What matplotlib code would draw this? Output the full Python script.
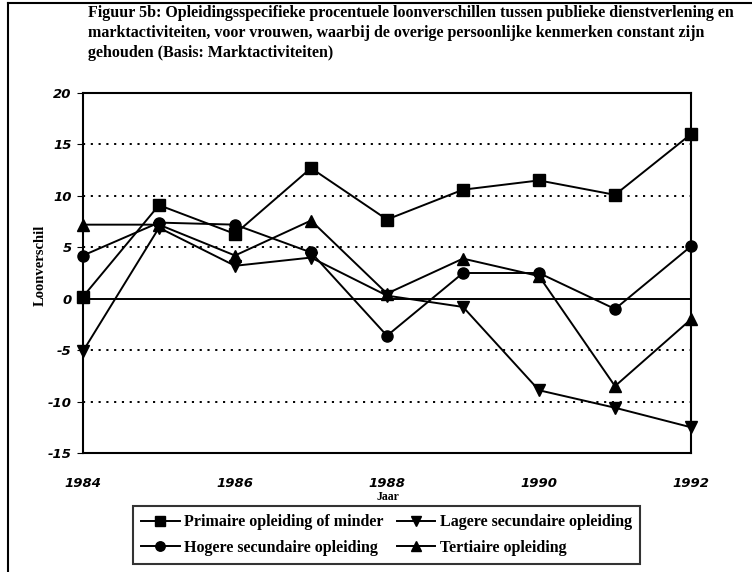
import matplotlib
matplotlib.use("Agg")
import matplotlib.pyplot as plt
from matplotlib.lines import Line2D

years = [1984, 1985, 1986, 1987, 1988, 1989, 1990, 1991, 1992]
primaire = [0.2, 9.1, 6.3, 12.7, 7.7, 10.6, 11.5, 10.1, 16.0]
hogere = [4.2, 7.4, 7.2, 4.5, -3.6, 2.5, 2.5, -1.0, 5.1]
lagere = [-5.1, 6.9, 3.2, 4.0, 0.3, -0.8, -8.9, -10.6, -12.5]
tertiaire = [7.2, 7.2, 4.2, 7.6, 0.5, 3.9, 2.2, -8.5, -2.0]

labels = ["Primaire opleiding of minder", "Hogere secundaire opleiding",
          "Lagere secundaire opleiding", "Tertiaire opleiding"]
xticks = [1984, 1986, 1988, 1990, 1992]
yticks = [-15, -10, -5, 0, 5, 10, 15, 20]

title = ("Figuur 5b: Opleidingsspecifieke procentuele loonverschillen tussen publieke dienstverlening en\n"
         "marktactiviteiten, voor vrouwen, waarbij de overige persoonlijke kenmerken constant zijn\n"
         "gehouden (Basis: Marktactiviteiten)")

W, H = 752, 572
fig = plt.figure(figsize=(W / 100, H / 100), dpi=100)
fig.patch.set_facecolor("white")

ax = fig.add_axes([83 / W, 1 - 453 / H, 608 / W, 360 / H])
ax.set_xlim(1984, 1992)
ax.set_ylim(-15, 20)

for y in [-10, -5, 5, 10, 15]:
    ax.axhline(y, color="black", lw=1.4, linestyle=(0, (1.1, 2.9)), zorder=1)
ax.axhline(0, color="black", lw=1.4, zorder=1)

series = [primaire, hogere, lagere, tertiaire]
markers = ["s", "o", "v", "^"]
handles = []
for vals, m, lab in zip(series, markers, labels):
    h, = ax.plot(years, vals, color="black", lw=1.4, marker=m, markersize=8,
                 markerfacecolor="black", markeredgecolor="black", label=lab,
                 clip_on=False, zorder=3)
    handles.append(h)

for s in ax.spines.values():
    s.set_linewidth(1.5)
    s.set_color("black")

ax.set_xticks(xticks)
ax.set_xticklabels([str(x) for x in xticks])
ax.set_yticks(yticks)
ax.set_yticklabels([str(y) for y in yticks])
ax.tick_params(axis="x", length=0, pad=17)
ax.tick_params(axis="y", length=4, width=0.8, direction="out", pad=4)
for lbl in ax.get_xticklabels() + ax.get_yticklabels():
    lbl.set_fontfamily("DejaVu Sans")
    lbl.set_fontweight("heavy")
    lbl.set_fontstyle("italic")
    lbl.set_fontsize(9.5)

fig.text(40 / W, 1 - 265 / H, "Loonverschil", rotation=90, ha="center", va="center",
         fontfamily="Liberation Serif", fontweight="bold", fontsize=10.5)
fig.text(388 / W, 1 - 497 / H, "Jaar", ha="center", va="center",
         fontfamily="Liberation Serif", fontweight="bold", fontsize=8.5)

fig.text(88 / W, 1 - 5 / H, title, ha="left", va="top", linespacing=1.32,
         fontfamily="Liberation Serif", fontweight="bold", fontsize=11.5)

leg = fig.legend(handles=handles, labels=labels, ncol=2, loc="center",
                 bbox_to_anchor=((130 + 643) / 2 / W, 1 - (505 + 565) / 2 / H),
                 frameon=True, fancybox=False, shadow=False, edgecolor="black",
                 prop={"family": "Liberation Serif", "weight": "bold", "size": 11.5},
                 handlelength=2.4, handletextpad=0.3, columnspacing=0.8,
                 labelspacing=0.6, borderpad=0.5, markerscale=0.85,
                 borderaxespad=0)
leg.get_frame().set_linewidth(1.5)

# outer frame of the figure (left and top edges)
fig.add_artist(Line2D([8 / W, 8 / W], [0, 1 - 3 / H], transform=fig.transFigure,
                      color="black", lw=1.5))
fig.add_artist(Line2D([8 / W, 1], [1 - 3 / H, 1 - 3 / H], transform=fig.transFigure,
                      color="black", lw=1.5))

fig.savefig("out.png", dpi=100, facecolor="white")
